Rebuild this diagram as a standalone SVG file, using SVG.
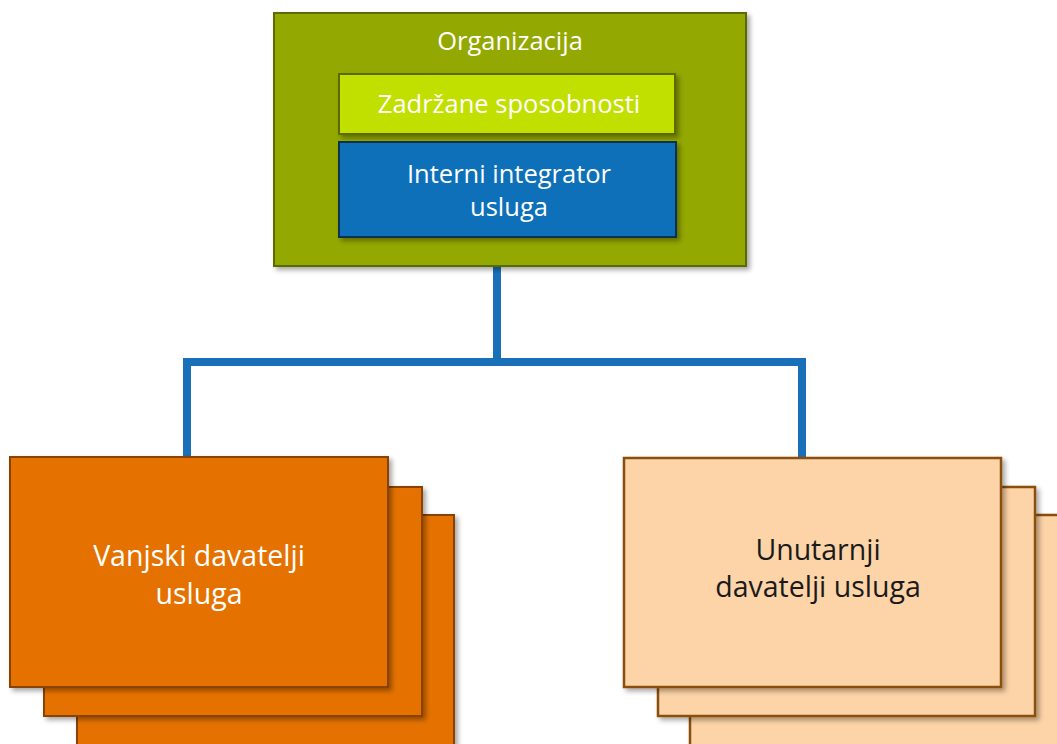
<svg xmlns="http://www.w3.org/2000/svg" width="1057" height="744" viewBox="0 0 1057 744">
<defs>
<filter id="sh" x="-10%" y="-10%" width="120%" height="120%">
<feDropShadow dx="3" dy="3" stdDeviation="2.5" flood-color="#000" flood-opacity="0.35"/>
</filter>
<style>
text{font-family:"Open Sans","Liberation Sans",sans-serif;font-size:25.5px;text-anchor:middle}
.big{font-size:28.5px}
.w{fill:#ffffff}
.k{fill:#1a1a1a}
.org{fill:#93a800;stroke:#5c6a00;stroke-width:2}
.lime{fill:#c2e000;stroke:#5c6a00;stroke-width:2}
.blue{fill:#0f6fb8;stroke:#0a3050;stroke-width:2}
.or{fill:#e57200;stroke:#8a4300;stroke-width:2}
.pe{fill:#fdd3a8;stroke:#8a5010;stroke-width:2.5}
.con{fill:none;stroke:#1a70b8;stroke-width:8;stroke-linejoin:miter}
</style>
</defs>
<rect width="1057" height="744" fill="#ffffff"/>
<g id="connectors">
<path class="con" d="M497 266 V362"/>
<path class="con" d="M187 458 V362 H802 V458"/>
</g>
<g id="organizacija">
<rect class="org" x="274" y="13" width="472" height="253" filter="url(#sh)"/>
<text class="w" x="510" y="50">Organizacija</text>
</g>
<g id="zadrzane">
<rect class="lime" x="339" y="74" width="336" height="60" filter="url(#sh)"/>
<text class="w" x="509" y="113">Zadržane sposobnosti</text>
</g>
<g id="interni">
<rect class="blue" x="339" y="142" width="337" height="95" filter="url(#sh)"/>
<text class="w" x="509" y="183">Interni integrator</text>
<text class="w" x="509" y="216">usluga</text>
</g>
<g id="vanjski">
<rect class="or" x="77" y="515" width="377" height="240" filter="url(#sh)"/>
<rect class="or" x="44" y="487" width="378" height="229" filter="url(#sh)"/>
<rect class="or" x="10" y="457" width="378" height="230" filter="url(#sh)"/>
<text class="w big" x="199" y="566">Vanjski davatelji</text>
<text class="w big" x="199" y="604">usluga</text>
</g>
<g id="unutarnji">
<rect class="pe" x="690" y="515" width="380" height="240" filter="url(#sh)"/>
<rect class="pe" x="658" y="487" width="377" height="229" filter="url(#sh)"/>
<rect class="pe" x="624" y="458" width="377" height="229" filter="url(#sh)"/>
<text class="k big" x="818" y="560">Unutarnji</text>
<text class="k big" x="818" y="597">davatelji usluga</text>
</g>
</svg>
